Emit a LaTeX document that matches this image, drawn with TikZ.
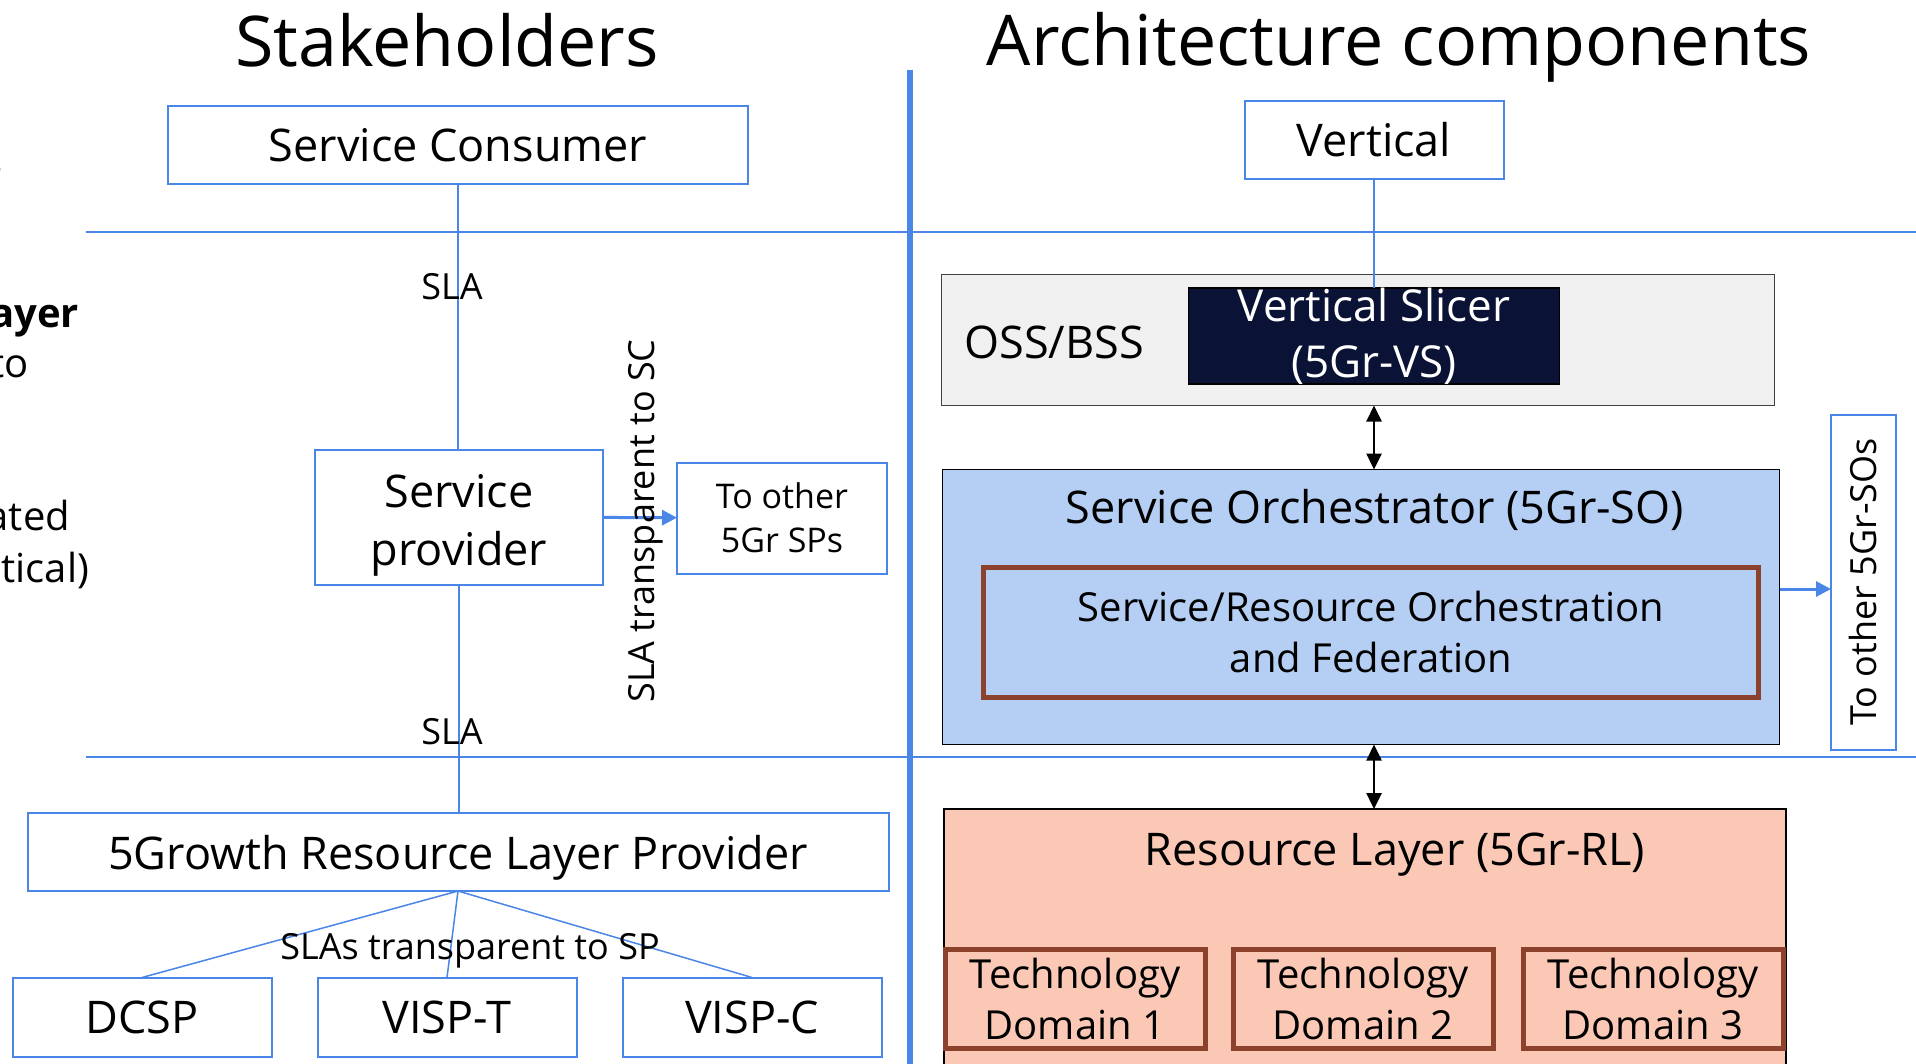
\documentclass[tikz,border=0pt]{standalone}
\usepackage{fontspec}
\setmainfont{Open Sans}
\usepackage{tikz}
\usetikzlibrary{arrows.meta}

\definecolor{lineblue}{RGB}{74,134,232}
\definecolor{ossgray}{RGB}{240,240,240}
\definecolor{ossedge}{RGB}{64,64,64}
\definecolor{vsnavy}{RGB}{10,18,54}
\definecolor{soblue}{RGB}{180,206,244}
\definecolor{rlsalmon}{RGB}{251,200,182}
\definecolor{tdbrown}{RGB}{140,65,45}

\begin{document}
\begin{tikzpicture}[x=1pt, y=-1pt,
        every node/.style={inner sep=0pt, outer sep=0pt},
        txttitle/.style={font=\fontsize{70}{82}\selectfont},
        txtbig/.style={font=\fontsize{45}{58}\selectfont},
        txtmid/.style={font=\fontsize{40}{51}\selectfont},
        txtsmall/.style={font=\fontsize{36}{44}\selectfont},
        blbox/.style={draw=lineblue, line width=2pt, align=center},
        brbox/.style={draw=tdbrown, fill=rlsalmon, line width=5pt, align=center},
        conn/.style={draw=lineblue, line width=1.5pt},
        seprule/.style={draw=lineblue, line width=2pt},
        blarrow/.style={draw=lineblue, line width=3pt, -{Triangle[length=15pt, width=15pt]}},
        dblarrow/.style={draw=black, line width=2.5pt, {Triangle[length=16pt, width=15pt]}-{Triangle[length=16pt, width=15pt]}}]
        \useasboundingbox (0,0) rectangle (1916,1063);
        \clip (0,0) rectangle (1916,1063);

        % cut-off words at the left edge
        \node[txtmid, anchor=base east] (fr1) at (3,175) {s};
        \node[txtmid, anchor=base east] (fr2) at (79,327) {\bfseries ayer};
        \node[txtmid, anchor=base east] (fr3) at (29,377) {to};
        \node[txtmid, anchor=base east] (fr4) at (70,530) {ated};
        \node[txtmid, anchor=base east] (fr5) at (89,582) {tical)};

        % separators
        \draw[seprule] (86,232) -- (1916,232);
        \draw[seprule] (86,757) -- (1916,757);
        \draw[lineblue, line width=6pt] (910,70) -- (910,1070);

        % stakeholders
        \node[txttitle, anchor=base] (sthd) at (447,66) {Stakeholders};
        \node[blbox, txtbig, minimum width=580, minimum height=78] (cons) at (458,145) {Service Consumer};
        \node[blbox, minimum width=288, minimum height=135] (prov) at (459,517) {};
        \node[txtbig, align=center] (provlbl) at (459,525) {Service\\provider};
        \node[blbox, font=\fontsize{34}{44}\selectfont, minimum width=210, minimum height=111] (spoth) at (782,518) {To other\\5Gr SPs};
        \node[blbox, txtbig, text depth=0pt, minimum width=861, minimum height=78] (rlprov) at (458,852) {5Growth Resource Layer Provider};
        \node[blbox, txtbig, minimum width=259, minimum height=79] (dcsp) at (142,1017) {DCSP};
        \node[blbox, txtbig, minimum width=259, minimum height=79] (vispt) at (447,1017) {VISP-T};
        \node[blbox, txtbig, minimum width=259, minimum height=79] (vispc) at (752,1017) {VISP-C};

        \draw[conn] (cons.south) -- (cons.south |- prov.north);
        \draw[conn] (prov.south) -- (prov.south |- rlprov.north);
        \draw[conn] (rlprov.south) -- (dcsp.north);
        \draw[conn] (rlprov.south) -- (vispt.north);
        \draw[conn] (rlprov.south) -- (vispc.north);
        \draw[blarrow] (prov) -- (spoth);

        \node[txtsmall] (sla1) at (452,287) {SLA};
        \node[txtsmall] (sla2) at (452,732) {SLA};
        \node[txtsmall] (slas) at (470,951) {SLAs transparent to SP};
        \node[txtsmall, rotate=90] (slasc) at (646,521) {SLA transparent to SC};

        % architecture components
        \node[txttitle, anchor=base] (arch) at (1399,65) {Architecture components};
        \node[blbox, txtbig, minimum width=259, minimum height=78] (vert) at (1374,140) {Vertical};
        \node[draw=ossedge, fill=ossgray, line width=1.5pt, minimum width=833, minimum height=131] (oss) at (1358,340) {};
        \node[txtbig, anchor=base] (osslbl) at (1054,358) {OSS/BSS};
        \node[draw=black, fill=vsnavy, line width=1.5pt, text=white, align=center, font=\fontsize{44}{56}\selectfont,
              minimum width=371, minimum height=93] (vs) at (1374,336) {Vertical Slicer\\(5Gr-VS)};
        \draw[conn] (vert.south) -- (vs.north);

        \node[draw=black, fill=soblue, line width=1.5pt, minimum width=837, minimum height=275] (so) at (1361,607) {};
        \node[txtbig, anchor=base] (solbl) at (1375,523) {Service Orchestrator (5Gr-SO)};
        \node[brbox, fill=soblue, txtmid, minimum width=775, minimum height=130] (sro) at (1371,632) {Service/Resource Orchestration\\and Federation};
        \node[blbox, txtsmall, rotate=90, minimum width=335, minimum height=65] (sooth) at (1863,582) {To other 5Gr-SOs};
        \coordinate (soin) at (1831,589);
        \draw[blarrow] (so.east |- soin) -- (soin);

        \node[draw=black, fill=rlsalmon, line width=1.5pt, minimum width=842, minimum height=280, anchor=north] (rl) at (1365,809) {};
        \node[txtbig, anchor=base] (rllbl) at (1395,865) {Resource Layer (5Gr-RL)};
        \node[brbox, txtmid, minimum width=260, minimum height=99] (td1) at (1075,999) {Technology\\Domain 1};
        \node[brbox, txtmid, minimum width=260, minimum height=99] (td2) at (1363,999) {Technology\\Domain 2};
        \node[brbox, txtmid, minimum width=260, minimum height=99] (td3) at (1653,999) {Technology\\Domain 3};

        \draw[dblarrow] (vs.center |- oss.south) -- (vs.center |- so.north);
        \draw[dblarrow] (vs.center |- so.south) -- (vs.center |- rl.north);
\end{tikzpicture}
\end{document}
